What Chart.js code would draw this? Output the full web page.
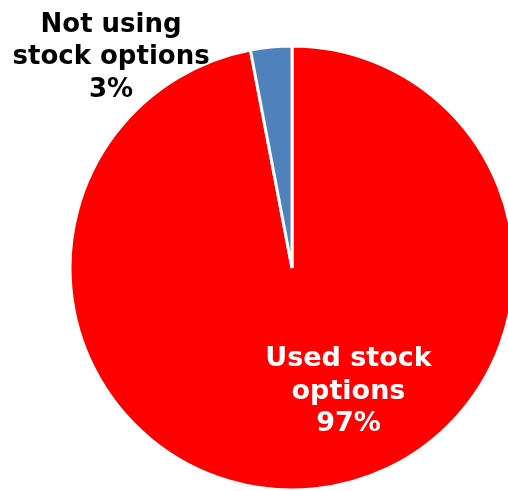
<!DOCTYPE html>
<html>
<head>
<meta charset="utf-8">
<script src="https://cdn.jsdelivr.net/npm/chart.js@4.4.1/dist/chart.umd.min.js"></script>
<style>
  html, body { margin: 0; padding: 0; background: #ffffff; overflow: hidden; }
  #wrap { position: relative; width: 508px; height: 491px; }
</style>
</head>
<body>
<div id="wrap"><canvas id="pie"></canvas></div>
<script>
// Share of companies by stock-option usage
const categories = ['Used stock options', 'Not using stock options'];
const shares = [97, 3];
const sliceColors = ['#FF0000', '#4F81BD'];

// Label text lines per slice (percent appended from the data)
const labelLines = [
  ['Used stock', 'options'],
  ['Not using', 'stock options']
];

// Where each label block sits: middle-line baseline relative to the pie centre,
// in units of radius, plus font size and line height
const labelStyles = [
  { dx: 0.2545, dy: 0.590, size: 27, lineHeight: 32.5, color: '#ffffff' },
  { dx: -0.815, dy: -0.917, size: 26, lineHeight: 32.2, color: '#000000' }
];

const sliceLabels = {
  id: 'sliceLabels',
  afterDatasetsDraw(chart) {
    const meta = chart.getDatasetMeta(0);
    const ctx = chart.ctx;
    ctx.save();
    ctx.textAlign = 'center';
    ctx.textBaseline = 'alphabetic';
    meta.data.forEach((arc, i) => {
      const { x, y, outerRadius } = arc.getProps(['x', 'y', 'outerRadius'], true);
      const s = labelStyles[i];
      const cx = x + s.dx * outerRadius;
      const cy = y + s.dy * outerRadius;
      const lines = labelLines[i].concat([shares[i] + '%']);
      ctx.font = 'bold ' + s.size + 'px "DejaVu Sans"';
      ctx.fillStyle = s.color;
      lines.forEach((t, k) => {
        ctx.fillText(t, cx, cy + (k - (lines.length - 1) / 2) * s.lineHeight);
      });
    });
    ctx.restore();
  }
};

new Chart(document.getElementById('pie'), {
  type: 'pie',
  data: {
    labels: categories,
    datasets: [{
      data: shares,
      backgroundColor: sliceColors,
      borderColor: '#ffffff',
      borderWidth: 3,
      radius: 222
    }]
  },
  options: {
    responsive: true,
    maintainAspectRatio: false,
    animation: false,
    layout: { padding: { left: 76, right: 0, top: 47, bottom: 2 } },
    plugins: {
      legend: { display: false },
      tooltip: { enabled: false }
    }
  },
  plugins: [sliceLabels]
});
</script>
</body>
</html>
